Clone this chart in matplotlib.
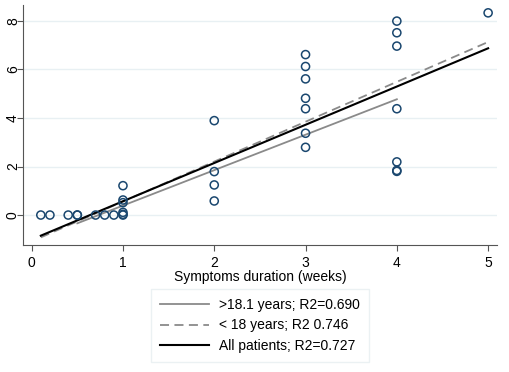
import matplotlib
matplotlib.use("Agg")
from matplotlib import pyplot as plt

plt.rcParams['font.family'] = ['Liberation Sans', 'DejaVu Sans']

# symptom duration (weeks) and score
weeks = [0.1, 0.2, 0.4, 0.5, 0.5, 0.7, 0.8, 0.9,
         1, 1, 1, 1, 1, 1,
         2, 2, 2, 2,
         3, 3, 3, 3, 3, 3, 3,
         4, 4, 4, 4, 4, 4, 4,
         5]
score = [0, 0, 0, 0, 0, 0, 0, 0,
         0, 0.03, 0.11, 0.51, 0.62, 1.21,
         3.89, 1.79, 1.24, 0.58,
         6.61, 6.12, 5.61, 4.81, 4.38, 3.37, 2.79,
         7.99, 7.51, 6.96, 4.38, 2.19, 1.84, 1.80,
         8.33]

# fitted lines, endpoints
adult_x, adult_y = [0.5, 4.0], [-0.34, 4.77]
young_x, young_y = [0.1, 5.0], [-0.92, 7.13]
all_x, all_y = [0.1, 5.0], [-0.85, 6.87]

labels = ['>18.1 years; R2=0.690', '< 18 years; R2 0.746', 'All patients; R2=0.727']

fig = plt.figure(figsize=(5.1, 3.72), dpi=100)
ax = fig.add_axes([0.046, 0.341, 0.929, 0.646])

ax.scatter(weeks, score, s=34, facecolors='none', edgecolors='#1a476f',
           linewidths=1.1, zorder=3)
l1, = ax.plot(adult_x, adult_y, color='#8a8a8a', lw=1.3, zorder=2)
l2, = ax.plot(young_x, young_y, color='#8a8a8a', lw=1.3, ls=(0, (5, 3)), zorder=2)
l3, = ax.plot(all_x, all_y, color='black', lw=1.5, zorder=2)

ax.set_xlim(-0.09, 5.10)
ax.set_ylim(-1.24, 8.66)
ax.set_xticks([0, 1, 2, 3, 4, 5])
ax.set_yticks([0, 2, 4, 6, 8])
ax.grid(axis='y', color='#e8f0f3', lw=1)
ax.set_axisbelow(True)
for s in ['top', 'right']:
    ax.spines[s].set_visible(False)
for s in ['left', 'bottom']:
    ax.spines[s].set_color('#555555')
ax.tick_params(colors='#555555', labelcolor='black', labelsize=10, length=4)
ax.tick_params(axis='y', pad=-1.5)
for t in ax.get_yticklabels():
    t.set_rotation(90)
    t.set_va('center')
ax.set_xlabel('Symptoms duration (weeks)', fontsize=10, labelpad=0)

leg = fig.legend([l1, l2, l3], labels, loc='center',
                 bbox_to_anchor=(0.51, 0.125), fontsize=10, handlelength=3.5,
                 handletextpad=0.7, labelspacing=0.45, fancybox=False,
                 edgecolor='#e6eef0', borderpad=0.7)
leg.get_frame().set_linewidth(1)

fig.savefig('out.png', dpi=100)
